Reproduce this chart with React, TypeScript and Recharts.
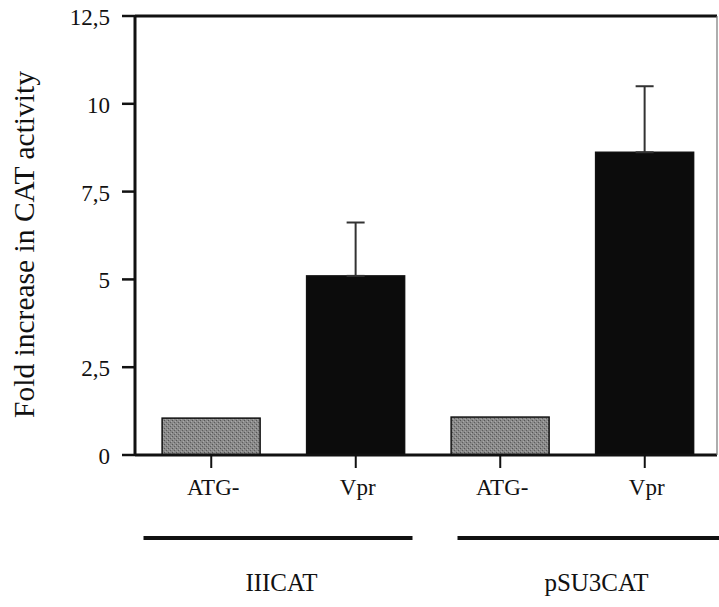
import React from 'react';
import { BarChart, Bar, XAxis, YAxis, ErrorBar, Cell, ReferenceLine } from 'recharts';

const categories = ['ATG-', 'Vpr', 'ATG-', 'Vpr'];
const groups = ['IIICAT', 'IIICAT', 'pSU3CAT', 'pSU3CAT'];
const values = [1.05, 5.1, 1.08, 8.62];
const errorsUp: (number | null)[] = [null, 1.52, null, 1.88];
const yTicks = [0, 2.5, 5, 7.5, 10, 12.5];
const yTickLabels = ['0', '2,5', '5', '7,5', '10', '12,5'];
const barColors = ['url(#stipple)', '#0c0c0c', 'url(#stipple)', '#0c0c0c'];
const yLabel = 'Fold increase in CAT activity';

const data = categories.map((c, i) => ({
  key: `${groups[i]}-${c}-${i}`,
  cat: c,
  group: groups[i],
  value: values[i],
  err: errorsUp[i] == null ? null : [0, errorsUp[i] as number],
}));

const FONT = 'Liberation Serif';
const fontStyle = { fontFamily: FONT };

// per-group styling offsets for the underline + label
const groupLabelDx = [-2, 24];
const groupLine = [
  [-140, 129],
  [-115, 160],
];

const GroupTick = (props: any) => {
  const { x, y, payload, index } = props;
  const gi = index ?? 0;
  const [l0, l1] = groupLine[gi] || [-130, 130];
  return (
    <g>
      <line x1={x + l0} x2={x + l1} y1={y + 11} y2={y + 11} stroke="#111" strokeWidth={4} />
      <text x={x + (groupLabelDx[gi] || 0)} y={y + 64} textAnchor="middle" style={fontStyle} fontFamily={FONT} fontSize={25} fill="#111">
        {payload.value}
      </text>
    </g>
  );
};

const CatTick = (props: any) => {
  const { x, y, index } = props;
  return (
    <text x={x + 2} y={y + 11 + 16} textAnchor="middle" style={fontStyle} fontFamily={FONT} fontSize={23} fill="#111">
      {categories[index]}
    </text>
  );
};

const ValTick = (props: any) => {
  const { x, y, payload } = props;
  return (
    <text x={x - 12} y={y + 9} textAnchor="end" style={fontStyle} fontFamily={FONT} fontSize={23} fill="#111">
      {yTickLabels[yTicks.indexOf(payload.value)]}
    </text>
  );
};

const YLabel = (props: any) => {
  const vb = props.viewBox || { x: 0, y: 0, width: 0, height: 0 };
  const cx = vb.x + 24;
  const cy = vb.y + vb.height / 2 + 9;
  return (
    <text
      x={cx}
      y={cy}
      transform={`rotate(-90, ${cx}, ${cy})`}
      textAnchor="middle"
      dominantBaseline="central"
      style={fontStyle}
      fontFamily={FONT}
      fontSize={29.5}
      fill="#111"
    >
      {yLabel}
    </text>
  );
};

const BarShape = (props: any) => {
  const { x, y, width, height, fill } = props;
  return (
    <g>
      <defs>
        <pattern id="stipple" width="4" height="4" patternUnits="userSpaceOnUse">
          <rect width="4" height="4" fill="#8a8a8a" />
          <rect x="0" y="0" width="1" height="1" fill="#555" />
          <rect x="2" y="2" width="1" height="1" fill="#5e5e5e" />
          <rect x="3" y="1" width="1" height="1" fill="#aaa" />
          <rect x="1" y="3" width="1" height="1" fill="#a4a4a4" />
        </pattern>
      </defs>
      <rect x={x} y={y} width={width} height={height} fill={fill} stroke="#111" strokeWidth={1.5} />
    </g>
  );
};

export default function App() {
  return (
    <div style={{ position: 'absolute', left: 0, top: 0, background: '#fff' }}>
      <BarChart
        width={719}
        height={607}
        data={data}
        margin={{ top: 16, right: 0, left: 0, bottom: 0 }}
        barCategoryGap="16%"
      >
        <XAxis
          dataKey="key"
          xAxisId={0}
          height={72}
          padding={{ left: 4, right: 0 }}
          axisLine={{ stroke: '#111', strokeWidth: 3 }}
          tickLine={{ stroke: '#111', strokeWidth: 2 }}
          tickSize={13}
          tickMargin={0}
          tick={<CatTick />}
          interval={0}
        />
        <XAxis
          dataKey="group"
          xAxisId="grp"
          allowDuplicatedCategory={false}
          height={80}
          padding={{ left: 4, right: 0 }}
          axisLine={false}
          tickLine={false}
          tickSize={0}
          tickMargin={0}
          tick={<GroupTick />}
          interval={0}
        />
        <YAxis
          yAxisId={0}
          width={135}
          domain={[0, 12.5]}
          ticks={yTicks}
          axisLine={{ stroke: '#111', strokeWidth: 3 }}
          tickLine={{ stroke: '#111', strokeWidth: 2.5 }}
          tickSize={13}
          tickMargin={0}
          tick={<ValTick />}
          label={<YLabel />}
          interval={0}
        />
        <YAxis
          yAxisId="r"
          orientation="right"
          width={2}
          domain={[0, 12.5]}
          tick={false}
          tickLine={false}
          axisLine={{ stroke: '#777', strokeWidth: 1.2 }}
        />
        <ReferenceLine y={12.5} yAxisId={0} stroke="#111" strokeWidth={3} ifOverflow="extendDomain" />
        <Bar dataKey="value" isAnimationActive={false} shape={<BarShape />}>
          {data.map((d, i) => (
            <Cell key={d.key} fill={barColors[i]} />
          ))}
          <ErrorBar dataKey="err" width={9} stroke="#333" strokeWidth={2} direction="y" isAnimationActive={false} />
        </Bar>
      </BarChart>
    </div>
  );
}
